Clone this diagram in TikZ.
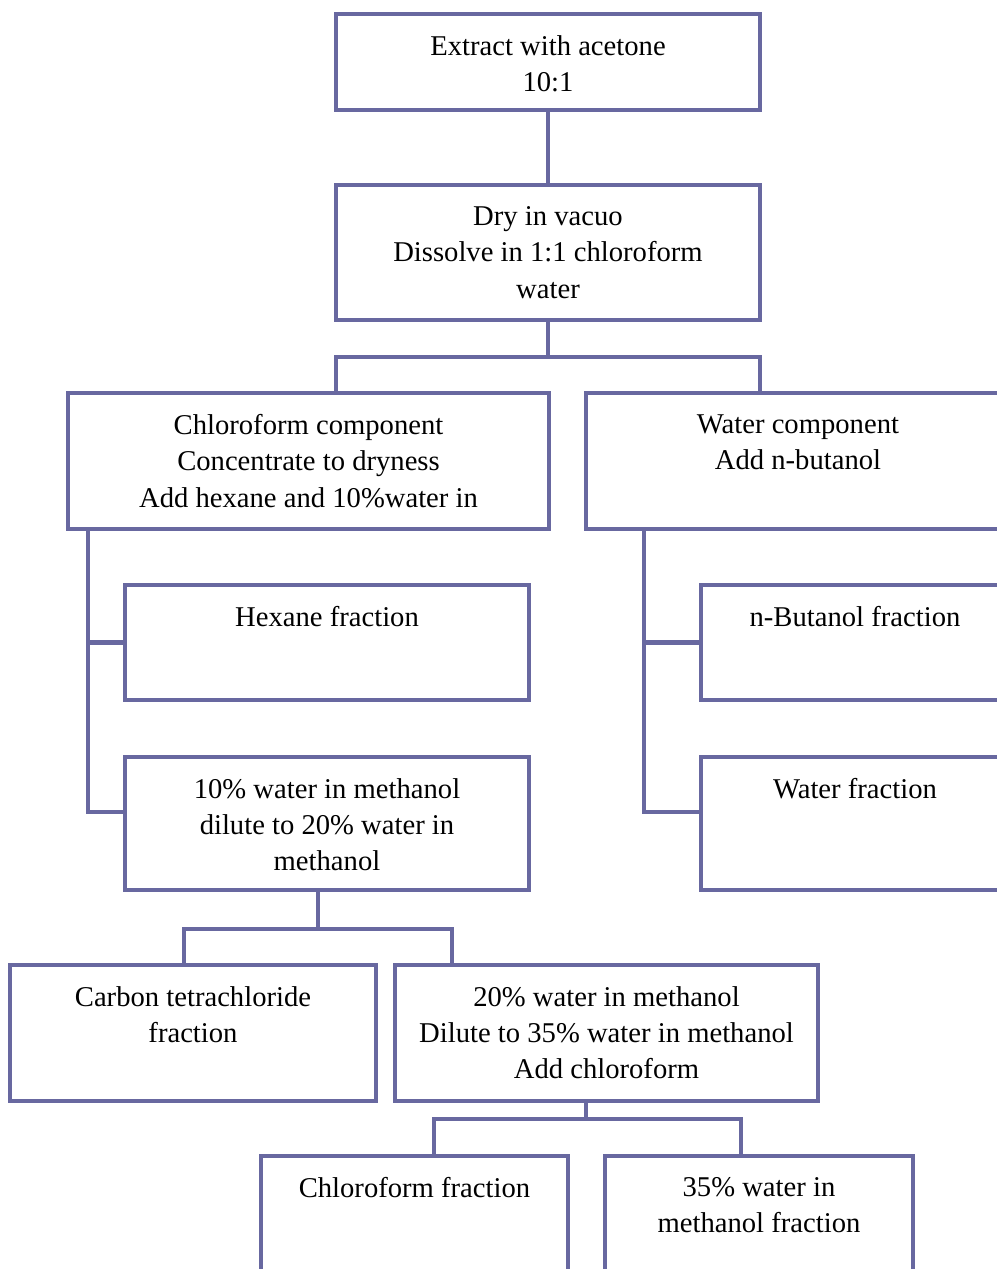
\documentclass[tikz,border=0pt]{standalone}
\usepackage{fontspec}
\setmainfont{Liberation Serif}
\usetikzlibrary{positioning}
\definecolor{boxline}{HTML}{6868A0}

\begin{document}
\begin{tikzpicture}[x=0.02cm, y=-0.02cm,
  box/.style n args={2}{draw=boxline, line width=2.3pt, inner sep=0pt,
    minimum width=#1*0.02cm, minimum height=#2*0.02cm},
  txt/.style={anchor=north, yshift=-0.46cm, inner sep=0pt, align=center,
    font=\fontsize{16.3}{20.7}\selectfont},
  link/.style={draw=boxline, line width=2.3pt}
]
\useasboundingbox (0,0) rectangle (997,1269);

% boxes
\node[box={424}{96}] (extract) at (548,62) {};
\node[box={424}{135}] (dry) at (548,252.5) {};
\node[box={481}{136}] (chloro) at (308.5,461) {};
\node[box={424}{136}] (water) at (798,461) {};
\node[box={404}{115}] (hexane) at (327,642.5) {};
\node[box={404}{133}] (tenpct) at (327,823.5) {};
\node[box={308}{115}] (butanol) at (855,642.5) {};
\node[box={308}{133}] (waterfr) at (855,823.5) {};
\node[box={366}{136}] (ccl4) at (193,1033) {};
\node[box={423}{136}] (twenty) at (606.5,1033) {};
\node[box={307}{144}] (chlfr) at (414.5,1228) {};
\node[box={308}{144}] (thirty) at (759,1228) {};

% texts
\node[txt] (extract-t) at (extract.north) {Extract with acetone\\10:1};
\node[txt] (dry-t) at (dry.north) {Dry in vacuo\\Dissolve in 1:1 chloroform\\water};
\node[txt] (chloro-t) at (chloro.north) {Chloroform component\\Concentrate to dryness\\Add hexane and 10\%water in};
\node[txt] (water-t) at (water.north) {Water component\\Add n-butanol};
\node[txt] (hexane-t) at (hexane.north) {Hexane fraction};
\node[txt] (tenpct-t) at (tenpct.north) {10\% water in methanol\\dilute to 20\% water in\\methanol};
\node[txt] (butanol-t) at (butanol.north) {n-Butanol fraction};
\node[txt] (waterfr-t) at (waterfr.north) {Water fraction};
\node[txt] (ccl4-t) at (ccl4.north) {Carbon tetrachloride\\fraction};
\node[txt] (twenty-t) at (twenty.north) {20\% water in methanol\\Dilute to 35\% water in methanol\\Add chloroform};
\node[txt] (chlfr-t) at (chlfr.north) {Chloroform fraction};
\node[txt] (thirty-t) at (thirty.north) {35\% water in\\methanol fraction};

% junctions
\coordinate (split-top) at (548,357);
\coordinate (split-top-l) at (336,357);
\coordinate (split-top-r) at (760,357);
\coordinate (chloro-out) at (88,529);
\coordinate (water-out) at (644,529);
\coordinate (split-mid) at (318,929);
\coordinate (split-mid-l) at (184,929);
\coordinate (split-mid-r) at (452,929);
\coordinate (split-low) at (586,1119);
\coordinate (split-low-l) at (434,1119);
\coordinate (split-low-r) at (741,1119);

% connectors
\draw[link] (extract) -- (dry);
\draw[link] (dry) -- (split-top);
\draw[link] (chloro.north -| split-top-l) |- (split-top-r) -- (water.north -| split-top-r);
\draw[link] (chloro-out) |- (hexane.west);
\draw[link] (chloro-out) |- ([yshift=0.23cm]tenpct.west);
\draw[link] (water-out) |- (butanol.west);
\draw[link] (water-out) |- ([yshift=0.23cm]waterfr.west);
\draw[link] (tenpct.south -| split-mid) -- (split-mid);
\draw[link] (ccl4.north -| split-mid-l) |- (split-mid-r) -- (twenty.north -| split-mid-r);
\draw[link] (twenty.south -| split-low) -- (split-low);
\draw[link] (chlfr.north -| split-low-l) |- (split-low-r) -- (thirty.north -| split-low-r);
\end{tikzpicture}
\end{document}
